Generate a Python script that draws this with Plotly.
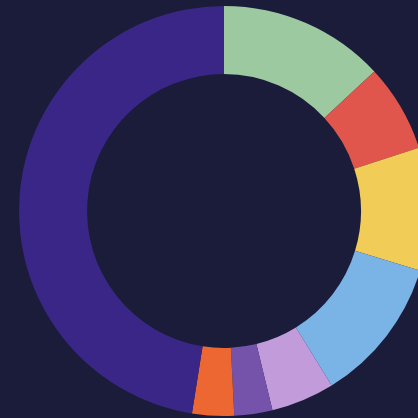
import plotly.graph_objects as go

labels = ["Green", "Red", "Yellow", "Blue", "Lilac", "Purple", "Orange", "Indigo"]
values = [13.1, 6.9, 9.7, 11.5, 5.0, 3.0, 3.3, 47.5]
colors = ["#9CC9A0", "#E0564C", "#F1CD57", "#7AB3E6", "#C29BDA", "#7653AB", "#EC6731", "#3A2686"]

BG = "#1A1C3A"

fig = go.Figure(go.Pie(
    labels=labels,
    values=values,
    hole=0.668,
    sort=False,
    direction="clockwise",
    rotation=0,
    marker=dict(colors=colors, line=dict(width=0)),
    textinfo="none",
    hoverinfo="label+percent",
    domain=dict(x=[19/440, 429/440], y=[2/418, 412/418]),
))

fig.update_layout(
    width=440, height=418,
    margin=dict(l=0, r=0, t=0, b=0),
    paper_bgcolor=BG,
    plot_bgcolor=BG,
    showlegend=False,
)

fig.write_html(
    "out.html",
    config={"displayModeBar": False},
    post_script="document.body.style.margin='0';document.body.style.overflow='hidden';document.documentElement.style.overflow='hidden';document.body.style.background='" + BG + "';",
)
